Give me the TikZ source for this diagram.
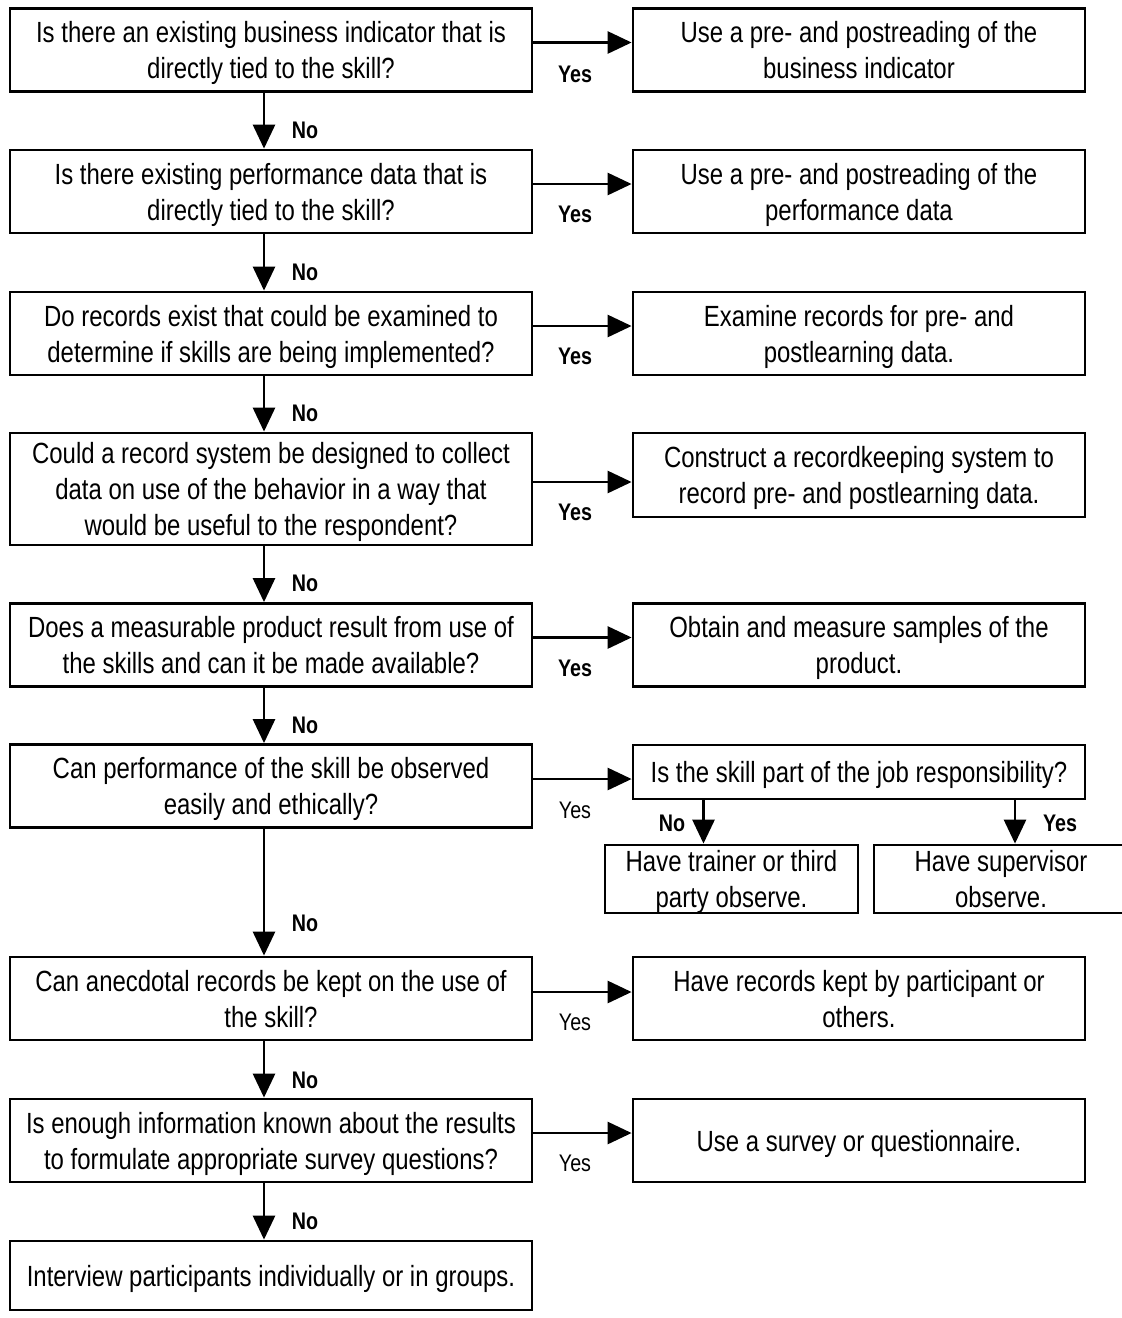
\documentclass[tikz,border=0pt]{standalone}
\usepackage{fontspec}
\setmainfont{Liberation Sans}[FakeStretch=0.82]
\usetikzlibrary{arrows.meta}

\begin{document}
\begin{tikzpicture}[x=0.5pt, y=-0.5pt, line width=1.4pt]
\tikzset{ >={Triangle[length=12pt, width=11pt]},
  box/.style={draw, align=center, inner sep=0pt, font=\fontsize{14.6}{18}\selectfont,
    text depth=-6pt},
  qbox/.style={box, minimum width=261pt, minimum height=41.5pt},
  abox/.style={box, minimum width=226pt, minimum height=41.5pt},
  sbox/.style={box, minimum width=127pt, minimum height=34pt},
  yes/.style={font=\fontsize{12}{14}\selectfont\bfseries},
  yesr/.style={font=\fontsize{12}{14}\selectfont},
}
\useasboundingbox [fill=white] (0,0) rectangle (1121,1318);

% questions
\node [qbox] (Q1) at (271,50)   {Is there an existing business indicator that is\\directly tied to the skill?};
\node [qbox] (Q2) at (271,191.5) {Is there existing performance data that is\\directly tied to the skill?};
\node [qbox] (Q3) at (271,333.5) {Do records exist that could be examined to\\determine if skills are being implemented?};
\node [qbox, minimum height=56pt] (Q4) at (271,489) {Could a record system be designed to collect\\data on use of the behavior in a way that\\would be useful to the respondent?};
\node [qbox] (Q5) at (271,645)  {Does a measurable product result from use of\\the skills and can it be made available?};
\node [qbox] (Q6) at (271,786)  {Can performance of the skill be observed\\easily and ethically?};
\node [qbox] (Q7) at (271,998.5) {Can anecdotal records be kept on the use of\\the skill?};
\node [qbox] (Q8) at (271,1140.5) {Is enough information known about the results\\to formulate appropriate survey questions?};
\node [qbox, minimum height=34.5pt] (Q9) at (271,1275.5) {Interview participants individually or in groups.};

% answers
\node [abox] (A1) at (859,50)   {Use a pre- and postreading of the\\business indicator};
\node [abox] (A2) at (859,191.5) {Use a pre- and postreading of the\\performance data};
\node [abox] (A3) at (859,333.5) {Examine records for pre- and\\postlearning data.};
\node [abox, minimum height=42pt] (A4) at (859,475) {Construct a recordkeeping system to\\record pre- and postlearning data.};
\node [abox] (A5) at (859,645)  {Obtain and measure samples of the\\product.};
\node [abox, minimum height=27pt] (A6) at (859,772) {Is the skill part of the job responsibility?};
\node [abox] (A7) at (859,998.5) {Have records kept by participant or\\others.};
\node [abox] (A8) at (859,1140.5) {Use a survey or questionnaire.};

\node [sbox, minimum width=126.5pt] (S1) at (731.5,879) {Have trainer or third\\party observe.};
\node [sbox] (S2) at (1001,879) {Have supervisor\\observe.};

% yes arrows
\draw [->] ([yshift=3.75pt]Q1.east) -- ([yshift=3.75pt]A1.west);
\draw [->] ([yshift=3.75pt]Q2.east) -- ([yshift=3.75pt]A2.west);
\draw [->] ([yshift=3.75pt]Q3.east) -- ([yshift=3.75pt]A3.west);
\draw [->] ([yshift=3.5pt]Q4.east)  -- ([yshift=-3.5pt]A4.west);
\draw [->] ([yshift=3.75pt]Q5.east) -- ([yshift=3.75pt]A5.west);
\draw [->] ([yshift=3.5pt]Q6.east)  -- ([yshift=-3.5pt]A6.west);
\draw [->] ([yshift=3.25pt]Q7.east) -- ([yshift=3.25pt]A7.west);
\draw [->] ([yshift=3.75pt]Q8.east) -- ([yshift=3.75pt]A8.west);

% no arrows
\draw [->] ([xshift=-3.5pt]Q1.south) -- ([xshift=-3.5pt]Q2.north);
\draw [->] ([xshift=-3.5pt]Q2.south) -- ([xshift=-3.5pt]Q3.north);
\draw [->] ([xshift=-3.5pt]Q3.south) -- ([xshift=-3.5pt]Q4.north);
\draw [->] ([xshift=-3.5pt]Q4.south) -- ([xshift=-3.5pt]Q5.north);
\draw [->] ([xshift=-3.5pt]Q5.south) -- ([xshift=-3.5pt]Q6.north);
\draw [->] ([xshift=-3.5pt]Q6.south) -- ([xshift=-3.5pt]Q7.north);
\draw [->] ([xshift=-3.5pt]Q7.south) -- ([xshift=-3.5pt]Q8.north);
\draw [->] ([xshift=-3.5pt]Q8.south) -- ([xshift=-3.5pt]Q9.north);

\draw [->] ([xshift=-14pt]S1.north |- A6.south) -- ([xshift=-14pt]S1.north);
\draw [->] ([xshift=7pt]S2.north |- A6.south)   -- ([xshift=7pt]S2.north);

% labels
\node [yes] (y1) at (575,74)  {Yes};
\node [yes] (y2) at (575,214) {Yes};
\node [yes] (y3) at (575,356) {Yes};
\node [yes] (y4) at (575,512) {Yes};
\node [yes] (y5) at (575,668) {Yes};
\node [yesr] (y6) at (575,810)  {Yes};
\node [yesr] (y7) at (575,1022) {Yes};
\node [yesr] (y8) at (575,1163) {Yes};

\node [yes] (n1) at (305,130)  {No};
\node [yes] (n2) at (305,272)  {No};
\node [yes] (n3) at (305,413)  {No};
\node [yes] (n4) at (305,583)  {No};
\node [yes] (n5) at (305,725)  {No};
\node [yes] (n6) at (305,923)  {No};
\node [yes] (n7) at (305,1080) {No};
\node [yes] (n8) at (305,1221) {No};

\node [yes] (sn) at (672,823)  {No};
\node [yes] (sy) at (1060,823) {Yes};

\end{tikzpicture}
\end{document}
